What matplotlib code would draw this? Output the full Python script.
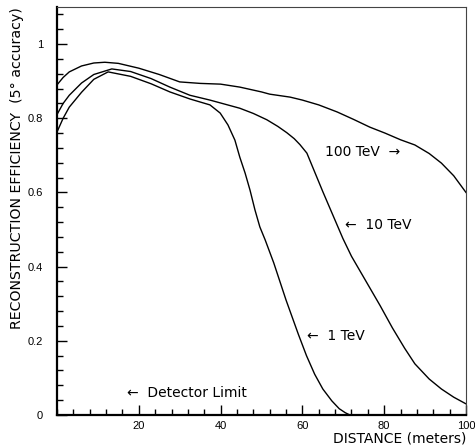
import numpy as np
import matplotlib
matplotlib.use('Agg')
import matplotlib.pyplot as plt
from matplotlib.ticker import MultipleLocator, FormatStrFormatter

# distance (m) vs reconstruction efficiency
dist_100 = [0, 1.5, 3, 6, 9, 11.7, 15, 20, 25, 30, 35, 40, 44.7, 50, 52, 57, 60, 64, 68.5, 72.5, 76.5, 80.2, 84, 87.5, 91, 94, 97, 100]
eff_100 = [0.89, 0.91, 0.925, 0.941, 0.949, 0.951, 0.948, 0.935, 0.918, 0.898, 0.894, 0.892, 0.884, 0.871, 0.865, 0.857, 0.849, 0.836, 0.817, 0.797, 0.776, 0.76, 0.742, 0.728, 0.705, 0.679, 0.645, 0.60]

dist_10 = [0, 1.5, 3, 6, 9, 13.4, 18, 23, 27.6, 32.5, 37.4, 44.7, 48, 51.3, 54, 56.2, 58, 59.4, 61.1, 65, 69.9, 72, 76, 79, 82, 85, 87.5, 91, 94, 97, 100]
eff_10 = [0.81, 0.84, 0.862, 0.895, 0.918, 0.933, 0.926, 0.907, 0.884, 0.862, 0.849, 0.827, 0.813, 0.796, 0.778, 0.761, 0.745, 0.729, 0.706, 0.602, 0.476, 0.428, 0.352, 0.295, 0.235, 0.18, 0.138, 0.097, 0.07, 0.048, 0.03]

dist_1 = [0, 1.5, 3, 6, 9, 12.5, 18, 23, 27.6, 32.5, 37.4, 39.9, 41.8, 43.5, 44.7, 46, 47.2, 48.4, 49.6, 50.9, 53, 56, 59, 61, 63, 65, 67.2, 69, 70.5, 71.6]
eff_1 = [0.763, 0.80, 0.83, 0.87, 0.905, 0.925, 0.913, 0.893, 0.871, 0.852, 0.836, 0.814, 0.782, 0.741, 0.695, 0.652, 0.606, 0.553, 0.507, 0.472, 0.41, 0.31, 0.218, 0.16, 0.11, 0.07, 0.038, 0.017, 0.006, 0.0]

fig = plt.figure(figsize=(4.75, 4.48), dpi=100)
ax = fig.add_axes([0.12, 0.0737, 0.861, 0.9107])

for d, e in [(dist_100, eff_100), (dist_10, eff_10), (dist_1, eff_1)]:
	ax.plot(d, e, color='black', lw=1.0)

ax.set_xlim(0, 100)
ax.set_ylim(0, 1.1)

ax.xaxis.set_major_locator(MultipleLocator(20))
ax.xaxis.set_minor_locator(MultipleLocator(4))
ax.yaxis.set_major_locator(MultipleLocator(0.2))
ax.yaxis.set_minor_locator(MultipleLocator(0.04))
ax.yaxis.set_major_formatter(FormatStrFormatter('%g'))
ax.set_xticks([20, 40, 60, 80, 100])

ax.tick_params(which='both', direction='in', top=False, right=False, width=1.0)
ax.tick_params(which='major', length=7)
ax.tick_params(which='minor', length=4)
ax.tick_params(axis='y', pad=10)
ax.tick_params(axis='x', pad=4)
for lab in ax.get_xticklabels() + ax.get_yticklabels():
	lab.set_family('Liberation Sans')
	lab.set_fontsize(8)

ax.spines['left'].set_linewidth(1.6)
ax.spines['bottom'].set_linewidth(1.6)
ax.spines['top'].set_linewidth(0.8)
ax.spines['right'].set_linewidth(0.8)
ax.spines['top'].set_color('#444444')
ax.spines['right'].set_color('#444444')

ax.set_xlabel('DISTANCE (meters)', fontsize=10, loc='right', labelpad=1)
ax.set_ylabel('RECONSTRUCTION EFFICIENCY  (5\u00b0 accuracy)', fontsize=10.2, loc='top', labelpad=3)

ax.text(65.5, 0.709, '100 TeV  \u2192', fontsize=10, va='center', ha='left')
ax.text(70.4, 0.512, '\u2190  10 TeV', fontsize=10, va='center', ha='left')
ax.text(61.1, 0.213, '\u2190  1 TeV', fontsize=10, va='center', ha='left')
ax.text(17.1, 0.06, '\u2190  Detector Limit', fontsize=10, va='center', ha='left')

fig.savefig('out.png', dpi=100)
